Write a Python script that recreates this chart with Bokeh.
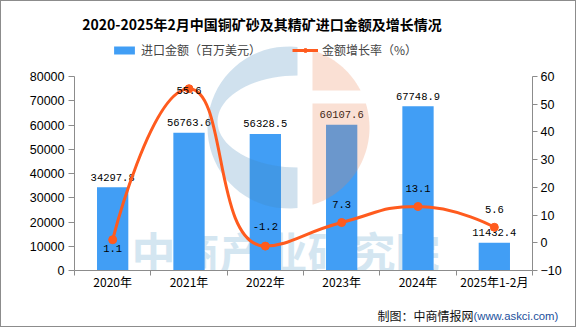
import math
from bokeh.plotting import figure
from bokeh.layouts import column
from bokeh.models import (Range1d, LinearAxis, FixedTicker, CustomJSTickFormatter, Label,
                          Legend, LegendItem, ColumnDataSource)
from bokeh.embed import file_html
from bokeh.resources import INLINE

# ---------------- data ----------------
categories = ["2020年", "2021年", "2022年", "2023年", "2024年", "2025年1-2月"]
import_value = [34297.8, 56763.6, 56328.5, 60107.6, 67748.9, 11432.4]   # 百万美元
growth_rate = [1.1, 55.6, -1.2, 7.3, 13.1, 5.6]                        # %
left_ticks = [0, 10000, 20000, 30000, 40000, 50000, 60000, 70000, 80000]
right_ticks = [-10, 0, 10, 20, 30, 40, 50, 60]

# ---------------- layout / style ----------------
W = 574                     # inner width (1px page border on each side)
MAIN_H, FOOT_H = 298, 27
FL, FR, FB = 73, 43, 29     # frame margins inside the main figure (frame top = figure top)
FW = W - FL - FR            # 458
FH_AX = 194                 # pixel height of the axis span (0..80000)
FH = MAIN_H - FB            # full frame height
LMIN, LMAX = 0, 80000
RMIN, RMAX = -10, 60
L_TOP = LMIN + (LMAX - LMIN) * FH / FH_AX
R_TOP = RMIN + (RMAX - RMIN) * FH / FH_AX
BAR_COLOR = "#419ef5"
LINE_COLOR = "#ff5b1e"
AXIS_COLOR = "#8c8c8c"
CJK = "Noto Sans CJK SC"
NUM_FONT = "Liberation Mono"
TICK_FONT = "Liberation Sans"
rate_label_dy = [9, 2, -20, -18, -18, -18]   # label offsets in px (style)
bar_label_dy = -10

n = len(categories)
xc = [i + 0.5 for i in range(n)]

p = figure(width=W, height=MAIN_H, x_range=Range1d(0, n), y_range=Range1d(LMIN, L_TOP),
           output_backend="svg", toolbar_location=None,
           x_axis_location=None, y_axis_location=None,
           min_border_left=FL, min_border_right=FR, min_border_top=0, min_border_bottom=FB)
p.frame_align = False
p.extra_y_ranges = {"rate": Range1d(RMIN, R_TOP)}
p.grid.visible = False
p.outline_line_color = None
p.background_fill_color = "white"
p.border_fill_color = "white"

# page-pixel -> data helpers (page frame: left 74, bottom 270)
PX0, PY0 = FL + 1, FH + 1
def px_x(px):
    return (px - PX0) / FW * n

def py_l(py):
    return LMIN + (PY0 - py) / FH_AX * (LMAX - LMIN)

# ---------------- watermark ----------------
p.add_layout(Label(x=211, y=20, x_units="screen", y_units="screen", text="中商产业研究院",
                   text_align="center", text_baseline="middle", text_font=CJK,
                   text_font_size="44px", text_font_style="bold", text_color="#d4e6f1",
                   level="underlay"))

# ---------------- bars ----------------
bar_src = ColumnDataSource(dict(x=xc, top=import_value,
                                lab=[f"{v:.1f}" for v in import_value]))
bars = p.vbar(x="x", top="top", width=0.41, source=bar_src, fill_color=BAR_COLOR,
              line_color=None)
p.text(x="x", y="top", text="lab", source=bar_src, text_align="center",
       text_baseline="middle", y_offset=bar_label_dy, text_font={"value": NUM_FONT},
       text_font_size="10.5px", text_color="black")

# logo watermark (semi-transparent, over bars)
CX, CY, R = 288, 127, 81
def arc(a0, a1, steps=40):
    return [(CX + R * math.cos(math.radians(a0 + (a1 - a0) * i / steps)),
             CY - R * math.sin(math.radians(a0 + (a1 - a0) * i / steps))) for i in range(steps + 1)]

a_top = math.degrees(math.atan2(math.sqrt(R * R - 9 ** 2), 9))
blue_poly = arc(a_top, 360 - a_top)
blue_poly += [(297 + 80 * math.cos(math.radians(t)), 121 - 46 * math.sin(math.radians(t)))
              for t in [-90 - 180 * i / 40 for i in range(41)]]
def ang_at_y(py):
    return math.degrees(math.asin((CY - py) / R))
a_or_top = math.degrees(math.atan2(math.sqrt(R * R - 24 ** 2), 24))
or_up = arc(a_or_top, ang_at_y(90)) + [(312, 90)]
or_dn = [(312, 103)] + arc(ang_at_y(103), -a_or_top)
polys = [blue_poly, or_up, or_dn]
p.patches(xs=[[px_x(q[0]) for q in poly] for poly in polys],
          ys=[[py_l(q[1]) for q in poly] for poly in polys],
          fill_color=["#4388bb", "#eb8353", "#eb8353"], fill_alpha=0.25, line_color=None)

# ---------------- smoothed line (echarts-like smoothing, computed in pixel space) ----------------
sx = FW / n
sy = FH_AX / (RMAX - RMIN)
P = [(xc[i] * sx, growth_rate[i] * sy) for i in range(n)]
smooth = 0.5
seg = dict(x0=[], y0=[], x1=[], y1=[], cx0=[], cy0=[], cx1=[], cy1=[])
cp0 = P[0]
for k in range(1, n):
    x, y = P[k]
    pxp, pyp = P[k - 1]
    if k == n - 1:
        cp1 = (x, y)
        nxt = None
    else:
        nx, ny = P[k + 1]
        vx, vy = nx - pxp, ny - pyp
        lp = math.hypot(x - pxp, y - pyp)
        ln = math.hypot(nx - x, ny - y)
        r = ln / (ln + lp)
        ncx = x + vx * smooth * r
        ncy = y + vy * smooth * r
        ncx = max(min(ncx, max(nx, x)), min(nx, x))
        ncy = max(min(ncy, max(ny, y)), min(ny, y))
        vx, vy = ncx - x, ncy - y
        c1x = x - vx * lp / ln
        c1y = y - vy * lp / ln
        c1x = max(min(c1x, max(pxp, x)), min(pxp, x))
        c1y = max(min(c1y, max(pyp, y)), min(pyp, y))
        vx, vy = x - c1x, y - c1y
        ncx = x + vx * ln / lp
        ncy = y + vy * ln / lp
        cp1 = (c1x, c1y)
        nxt = (ncx, ncy)
    seg["x0"].append(pxp / sx); seg["y0"].append(pyp / sy)
    seg["x1"].append(x / sx); seg["y1"].append(y / sy)
    seg["cx0"].append(cp0[0] / sx); seg["cy0"].append(cp0[1] / sy)
    seg["cx1"].append(cp1[0] / sx); seg["cy1"].append(cp1[1] / sy)
    cp0 = nxt

line = p.bezier(x0="x0", y0="y0", x1="x1", y1="y1", cx0="cx0", cy0="cy0", cx1="cx1", cy1="cy1",
                source=ColumnDataSource(seg), y_range_name="rate",
                line_color=LINE_COLOR, line_width=3)
rate_src = ColumnDataSource(dict(x=xc, y=growth_rate, lab=[f"{v:.1f}" for v in growth_rate],
                                 dy=rate_label_dy))
pts = p.scatter(x="x", y="y", source=rate_src, y_range_name="rate", size=8,
                fill_color=LINE_COLOR, line_color=LINE_COLOR)
p.text(x="x", y="y", text="lab", source=rate_src, y_range_name="rate", text_align="center",
       text_baseline="middle", y_offset="dy", text_font={"value": NUM_FONT},
       text_font_size="10.5px", text_color="black")

# ---------------- axes ----------------
def style_axis(ax):
    ax.axis_line_color = AXIS_COLOR
    ax.major_tick_line_color = AXIS_COLOR
    ax.minor_tick_line_color = AXIS_COLOR
    ax.major_label_text_font = TICK_FONT
    ax.major_label_text_font_size = "12.5px"
    ax.major_label_text_color = "black"
    ax.major_tick_in = 0
    ax.minor_tick_in = 0
    ax.minor_tick_out = 0

xa = LinearAxis(ticker=FixedTicker(ticks=xc, minor_ticks=list(range(n + 1))),
                formatter=CustomJSTickFormatter(args=dict(labels=categories),
                                                code="return labels[Math.floor(tick)] || ''"))
style_axis(xa)
xa.major_tick_out = 0
xa.minor_tick_out = 5
xa.major_label_standoff = -3
xa.major_label_text_font = CJK
xa.major_label_text_font_size = "12px"
p.add_layout(xa, "below")

ya = LinearAxis(ticker=FixedTicker(ticks=left_ticks), bounds=(LMIN, LMAX))
style_axis(ya)
ya.major_tick_out = 6
ya.major_label_standoff = 4
p.add_layout(ya, "left")

ra = LinearAxis(y_range_name="rate", ticker=FixedTicker(ticks=right_ticks), bounds=(RMIN, RMAX))
style_axis(ra)
ra.major_tick_out = 5
ra.major_label_standoff = 3
p.add_layout(ra, "right")

# ---------------- legend & title (inside the tall frame) ----------------
legend = Legend(items=[LegendItem(label="进口金额（百万美元）", renderers=[bars]),
                       LegendItem(label="金额增长率（%）", renderers=[line, pts])],
                orientation="horizontal", location=(37, 212), padding=0, margin=0,
                spacing=31, label_standoff=4, glyph_width=26, glyph_height=10,
                label_height=14, label_text_font=CJK, label_text_font_size="12px",
                border_line_color=None, background_fill_alpha=0)
p.add_layout(legend, "center")

p.add_layout(Label(x=187.5, y=247, x_units="screen", y_units="screen",
                   text="2020-2025年2月中国铜矿砂及其精矿进口金额及增长情况",
                   text_align="center", text_baseline="middle", text_font=CJK,
                   text_font_size="14px", text_font_style="bold", text_color="black"))

# ---------------- footer figure ----------------
f = figure(width=W, height=FOOT_H, x_range=Range1d(0, W), y_range=Range1d(FOOT_H, 0),
           output_backend="svg", toolbar_location=None, x_axis_location=None,
           y_axis_location=None, min_border=0, min_border_left=0, min_border_right=0,
           min_border_top=0, min_border_bottom=0)
f.frame_align = False
f.grid.visible = False
f.outline_line_color = None
f.add_layout(Label(x=472, y=16, text="制图：中商情报网", text_align="right",
                   text_baseline="middle", text_font=CJK, text_font_size="12px",
                   text_color="#111111"))
f.add_layout(Label(x=472, y=16, text="(www.askci.com)", text_align="left",
                   text_baseline="middle", text_font=TICK_FONT, text_font_size="11.3px",
                   text_color="#1a4f9c"))

layout = column(p, f, spacing=0, styles={"border": "1px solid #8c8c8c"})
open("out.html", "w").write(file_html(layout, INLINE))
